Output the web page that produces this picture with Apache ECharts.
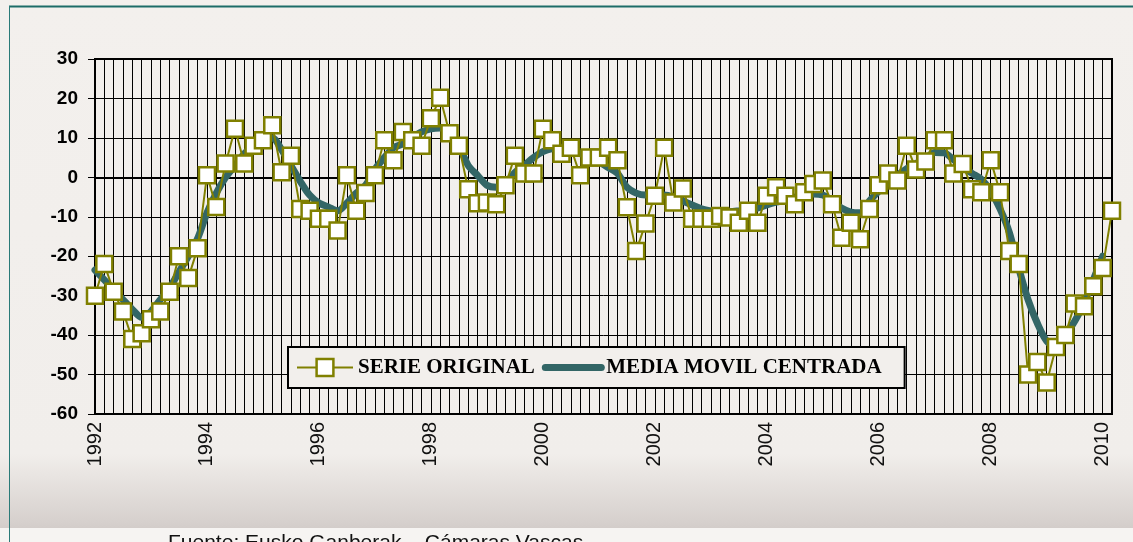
<!DOCTYPE html>
<html><head><meta charset="utf-8">
<script src="https://cdn.jsdelivr.net/npm/echarts@6/dist/echarts.min.js"></script>
<style>html,body{margin:0;padding:0;background:#F2EFEC}#c{width:1133px;height:542px}</style>
</head><body><div id="c"></div>
<script>
// Categories: bimonthly periods starting 1992
const startYear = 1992;
const periodsPerYear = 6;
const nPoints = 110;
const categories = [];
for (let i = 0; i < nPoints; i++) {
  categories.push((startYear + Math.floor(i / periodsPerYear)) + '/' + (i % periodsPerYear + 1));
}

const serieOriginal = [
  -30, -22, -29, -34, -41, -39.5, -36, -34, -29, -20,
  -25.5, -18, 0.5, -7.5, 3.5, 12.3, 3.5, 8, 9.4, 13.2,
  1.3, 5.5, -8, -8.5, -10.5, -10.5, -13.5, 0.5, -8.5, -4,
  0.5, 9.4, 4.3, 11.5, 9.4, 8, 15, 20.2, 11.2, 8,
  -3, -6.6, -6.4, -6.8, -2, 5.5, 1, 1, 12.3, 9.4,
  6, 7.5, 0.5, 5, 5, 7.5, 4.3, -7.6, -18.7, -11.7,
  -4.7, 7.5, -6.4, -2.8, -10.5, -10.5, -10.5, -9.8, -10.2, -11.5,
  -8.5, -11.5, -4.7, -2.5, -4.7, -6.8, -3.8, -1.7, -0.8, -6.8,
  -15.3, -11.5, -15.7, -8, -2, 1, -0.8, 8, 2, 4,
  9.4, 9.4, 1, 3.4, -3, -3.8, 4.3, -3.8, -18.7, -22,
  -50, -46.8, -52, -43, -40, -32, -32.7, -27.6, -23, -8.5
];

const mediaMovil = [
  -23.5, -26, -28.5, -31, -33.5, -35.5, -34, -31, -28, -24,
  -20, -15.5, -9, -4, 0, 3, 6, 8, 9.5, 10,
  7, 3, -1, -4.5, -6.5, -7.5, -8.5, -6.5, -4, -2,
  2, 5, 7.5, 8.5, 10, 11.5, 12.3, 12.5, 12, 8,
  3, 0.5, -2, -2.5, -1.5, 1.2, 3, 5, 6.5, 7.3,
  7.6, 7, 6, 5.5, 4, 2.5, 1, -2.5, -4, -4.5,
  -4.5, -4.5, -5, -6, -7, -8, -8.5, -8.7, -8.7, -8.5,
  -8.2, -7.8, -7, -6.3, -5.7, -5, -4.5, -4.2, -4.5, -6,
  -7.8, -8.8, -9, -6, -3.5, -1.5, 0.5, 2.2, 3.5, 4.7,
  6.3, 6.2, 4.5, 2.5, 1, -0.5, -3.5, -8, -14, -23,
  -31, -37, -41.5, -43, -40, -36.5, -32, -26, -20, null
];

const yMin = -60, yMax = 30, yStep = 10;
const labelEvery = 12;

const olive = '#808000';
const teal = '#336666';

const chart = echarts.init(document.getElementById('c'), null, {renderer: 'canvas'});
chart.setOption({
  backgroundColor: 'transparent',
  animation: false,
  graphic: [
    {type: 'rect', z: -10, shape: {x: 0, y: 0, width: 1133, height: 528},
     style: {fill: new echarts.graphic.LinearGradient(0, 0, 0, 1, [
       {offset: 0, color: '#F3F0ED'}, {offset: 0.86, color: '#F1EEEB'},
       {offset: 0.99, color: '#D6D0CD'}, {offset: 1, color: '#D3CDCA'}])}},
    {type: 'rect', z: -10, shape: {x: 0, y: 528, width: 1133, height: 14}, style: {fill: '#F6F4F2'}},
    {type: 'line', z: -5, shape: {x1: 9, y1: 6.5, x2: 1133, y2: 6.5}, style: {stroke: '#1C6C68', lineWidth: 2}},
    {type: 'line', z: -5, shape: {x1: 9.5, y1: 6, x2: 9.5, y2: 542}, style: {stroke: '#2A7A78', lineWidth: 1}},
    {type: 'text', left: 168, top: 533, style: {text: 'Fuente: Eusko Ganberak \u2013 C\u00e1maras Vascas', fill: '#111', font: '21px "Liberation Sans", Arial, sans-serif'}}
  ],
  grid: {left: 95, right: 21, top: 59, bottom: 128, show: true, borderColor: '#000', borderWidth: 2, backgroundColor: 'transparent'},
  legend: {
    data: [
      {name: 'SERIE ORIGINAL', itemStyle: {color: '#FFFFFF', borderColor: olive, borderWidth: 2.5}, lineStyle: {color: olive, width: 2}},
      {name: 'MEDIA MOVIL CENTRADA', itemStyle: {opacity: 0}, lineStyle: {color: teal, width: 7, cap: 'round'}}
    ],
    left: 288, top: 347,
    padding: [10, 23, 10, 8],
    itemWidth: 56, itemHeight: 21, itemGap: 7,
    backgroundColor: '#F2EFEC', borderColor: '#000', borderWidth: 2, borderRadius: 0,
    textStyle: {fontFamily: '"Liberation Serif", "Times New Roman", serif', fontWeight: 'bold', fontSize: 21, color: '#000'}
  },
  xAxis: {
    type: 'category', data: categories, boundaryGap: false,
    axisLine: {show: true, lineStyle: {color: '#000', width: 2}},
    axisTick: {show: false},
    axisLabel: {
      interval: (i) => i % labelEvery === 0,
      formatter: (v) => v.split('/')[0],
      rotate: 90, margin: 8,
      fontFamily: '"Liberation Sans", Arial, sans-serif', fontSize: 20, color: '#111'
    },
    splitLine: {show: true, interval: 0, lineStyle: {color: '#000', width: 1}}
  },
  yAxis: {
    type: 'value', min: yMin, max: yMax, interval: yStep,
    axisLine: {show: true, lineStyle: {color: '#000', width: 2}},
    axisTick: {show: true, length: 7, lineStyle: {color: '#000', width: 1}},
    axisLabel: {margin: 17, fontFamily: '"Liberation Sans", Arial, sans-serif', fontWeight: 'bold', fontSize: 19, color: '#000'},
    splitLine: {show: true, lineStyle: {color: '#000', width: 1}}
  },
  series: [
    {
      name: 'MEDIA MOVIL CENTRADA', type: 'line', data: mediaMovil,
      symbol: 'none', smooth: 0.3, connectNulls: false,
      lineStyle: {color: teal, width: 7, cap: 'round', join: 'round'},
      itemStyle: {color: teal},
      z: 2,
      markLine: {silent: true, symbol: 'none', label: {show: false},
        lineStyle: {color: '#000', width: 2, type: 'solid'}, data: [{yAxis: 0}], z: 1}
    },
    {
      name: 'SERIE ORIGINAL', type: 'line', data: serieOriginal,
      symbol: 'rect', symbolSize: 16, showAllSymbol: true,
      lineStyle: {color: olive, width: 2},
      itemStyle: {color: '#FFFFFF', borderColor: olive, borderWidth: 2.5},
      z: 3
    }
  ]
});
</script></body></html>
